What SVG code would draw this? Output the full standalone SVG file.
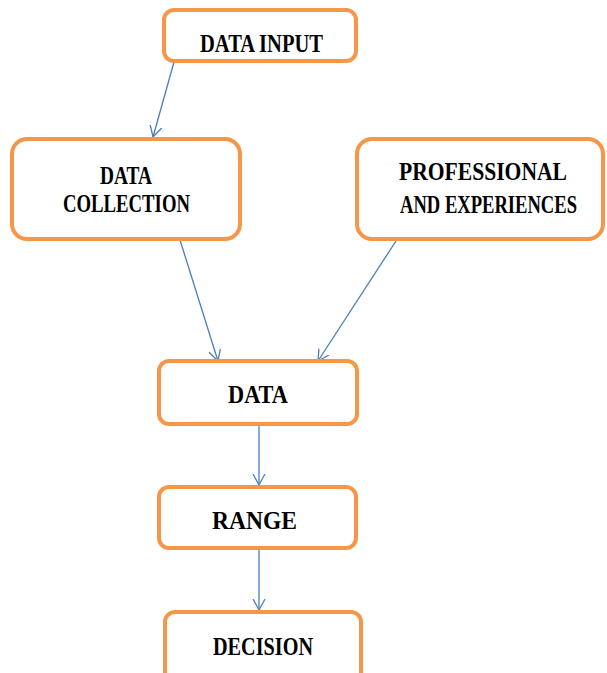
<svg xmlns="http://www.w3.org/2000/svg" width="607" height="673" viewBox="0 0 607 673">
<style>
.box{fill:#fff;stroke:#f79646;stroke-width:4}
.t{font-family:"Liberation Serif","Times New Roman",serif;font-weight:bold;font-size:18.5px;fill:#000}
.c{fill:none;stroke:#4a7ebb;stroke-width:1.3}
</style>
<defs>
<marker id="ah" markerUnits="userSpaceOnUse" markerWidth="14" markerHeight="14" refX="11" refY="6" orient="auto" viewBox="0 0 14 12">
<path d="M0,0 L11,6 L0,12" fill="none" stroke="#4a7ebb" stroke-width="1.3"/>
</marker>
</defs>
<g id="connectors">
<line class="c" x1="174" y1="62" x2="153" y2="137" marker-end="url(#ah)"/>
<line class="c" x1="180" y1="240" x2="218" y2="361" marker-end="url(#ah)"/>
<line class="c" x1="396" y1="241" x2="318" y2="361" marker-end="url(#ah)"/>
<line class="c" x1="259" y1="426" x2="259" y2="485" marker-end="url(#ah)"/>
<line class="c" x1="259" y1="550" x2="259" y2="610" marker-end="url(#ah)"/>
</g>
<g id="data-input">
<rect class="box" x="164" y="10" width="192" height="51" rx="10"/>
<text class="t" transform="translate(200,52) scale(1,1.35)" textLength="123" lengthAdjust="spacingAndGlyphs">DATA INPUT</text>
</g>
<g id="data-collection">
<rect class="box" x="12" y="139" width="228" height="100" rx="15"/>
<text class="t" transform="translate(100,184) scale(1,1.35)" textLength="52" lengthAdjust="spacingAndGlyphs">DATA</text>
<text class="t" transform="translate(63,212) scale(1,1.35)" textLength="127" lengthAdjust="spacingAndGlyphs">COLLECTION</text>
</g>
<g id="professional">
<rect class="box" x="357" y="139" width="246" height="100" rx="15"/>
<text class="t" transform="translate(399,180) scale(1,1.35)" textLength="168" lengthAdjust="spacingAndGlyphs">PROFESSIONAL</text>
<text class="t" transform="translate(400,213) scale(1,1.35)" textLength="177" lengthAdjust="spacingAndGlyphs">AND EXPERIENCES</text>
</g>
<g id="data">
<rect class="box" x="159" y="361" width="198" height="63" rx="10"/>
<text class="t" transform="translate(228,403) scale(1,1.35)" textLength="60" lengthAdjust="spacingAndGlyphs">DATA</text>
</g>
<g id="range">
<rect class="box" x="159" y="487" width="197" height="61" rx="10"/>
<text class="t" transform="translate(212,529) scale(1,1.35)" textLength="85" lengthAdjust="spacingAndGlyphs">RANGE</text>
</g>
<g id="decision">
<rect class="box" x="165" y="612" width="196" height="80" rx="10"/>
<text class="t" transform="translate(213,655) scale(1,1.35)" textLength="100" lengthAdjust="spacingAndGlyphs">DECISION</text>
</g>
</svg>
